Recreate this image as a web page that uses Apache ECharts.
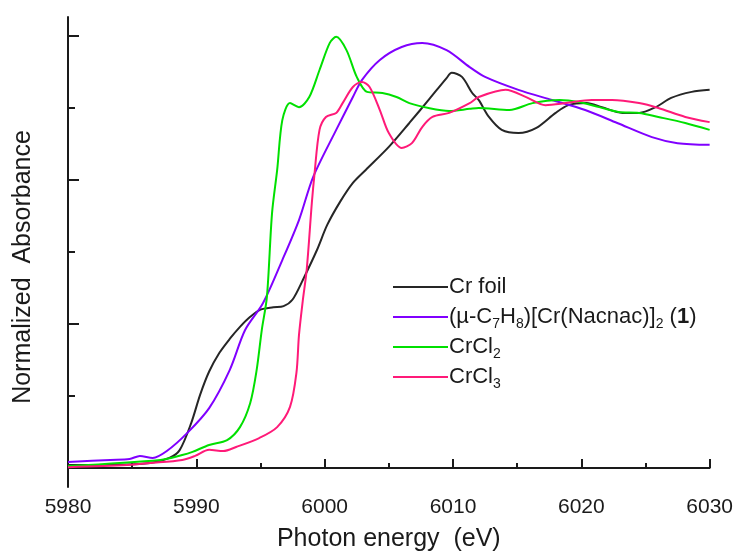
<!DOCTYPE html>
<html>
<head>
<meta charset="utf-8">
<script src="https://cdn.jsdelivr.net/npm/echarts@6/dist/echarts.min.js"></script>
<style>
  html, body { margin: 0; padding: 0; background: #fff; }
  #chart { width: 736px; height: 557px; }
</style>
</head>
<body>
<div id="chart"></div>
<script>
// Cr K-edge XANES spectra: [photon energy (eV), normalized absorbance]
const crFoil = [
  [5980, 0.010], [5982.5, 0.010], [5986.4, 0.017], [5987.9, 0.035], [5988.7, 0.062],
  [5989.6, 0.156], [5990.3, 0.255], [5991.0, 0.335], [5991.8, 0.400], [5992.6, 0.448],
  [5993.4, 0.490], [5994.2, 0.525], [5995.0, 0.550], [5996.0, 0.558], [5996.8, 0.562],
  [5997.5, 0.585], [5998.3, 0.653], [5999.4, 0.757], [6000.2, 0.844], [6001.2, 0.924],
  [6002.2, 0.990], [6003.2, 1.035], [6005.0, 1.115], [6006.6, 1.198], [6008.1, 1.278],
  [6009.5, 1.354], [6009.9, 1.372], [6010.7, 1.358], [6011.5, 1.302], [6012.0, 1.278],
  [6012.8, 1.219], [6013.8, 1.174], [6015.1, 1.163], [6016.5, 1.181], [6018.0, 1.233],
  [6019.0, 1.260], [6020.4, 1.267], [6021.6, 1.253], [6023.2, 1.233], [6024.5, 1.233],
  [6025.8, 1.253], [6027.0, 1.285], [6028.6, 1.306], [6030, 1.313]
];
const nacnacComplex = [
  [5980, 0.021], [5983.3, 0.028], [5984.8, 0.031], [5985.6, 0.042], [5986.6, 0.035],
  [5987.7, 0.059], [5989.3, 0.122], [5991.0, 0.208], [5992.6, 0.340], [5993.8, 0.479],
  [5995.2, 0.573], [5996.7, 0.722], [5998.0, 0.861], [5999.1, 1.010], [6000.9, 1.174],
  [6002.2, 1.288], [6002.9, 1.347], [6004.3, 1.417], [6006.0, 1.462], [6007.6, 1.476],
  [6009.5, 1.451], [6011.3, 1.392], [6012.5, 1.358], [6015.1, 1.313], [6017.7, 1.278],
  [6020.3, 1.243], [6022.8, 1.198], [6025.5, 1.149], [6027.5, 1.128], [6030, 1.122]
];
const crCl2 = [
  [5980, 0.007], [5987.2, 0.028], [5988.9, 0.045], [5989.7, 0.056], [5991.0, 0.080],
  [5992.4, 0.097], [5993.4, 0.142], [5994.2, 0.226], [5994.7, 0.340], [5995.1, 0.479],
  [5995.5, 0.594], [5995.9, 0.885], [5996.3, 1.035], [5996.7, 1.208], [5997.3, 1.267],
  [5998.0, 1.253], [5998.8, 1.288], [5999.6, 1.382], [6000.4, 1.476], [6000.9, 1.497],
  [6001.7, 1.451], [6002.5, 1.358], [6003.3, 1.306], [6004.5, 1.302], [6005.6, 1.288],
  [6006.6, 1.267], [6008.1, 1.250], [6009.7, 1.240], [6011.3, 1.247], [6012.0, 1.250],
  [6014.4, 1.243], [6016.2, 1.267], [6018.3, 1.278], [6019.8, 1.271], [6021.4, 1.253],
  [6022.9, 1.236], [6024.5, 1.233], [6026.0, 1.219], [6028.1, 1.198], [6030, 1.174]
];
const crCl3 = [
  [5980, 0.003], [5984.6, 0.010], [5986.4, 0.017], [5988.9, 0.028], [5989.9, 0.042],
  [5991.0, 0.063], [5992.1, 0.059], [5993.1, 0.073], [5994.9, 0.104], [5996.3, 0.142],
  [5997.3, 0.212], [5997.8, 0.330], [5998.0, 0.462], [5998.3, 0.583], [5998.6, 0.688],
  [5999.0, 0.920], [5999.2, 1.017], [5999.6, 1.174], [6000.1, 1.219], [6000.9, 1.233],
  [6001.4, 1.267], [6002.2, 1.323], [6002.9, 1.340], [6003.5, 1.323], [6004.3, 1.243],
  [6005.0, 1.163], [6006.0, 1.111], [6006.8, 1.128], [6007.6, 1.184], [6008.4, 1.219],
  [6009.7, 1.233], [6011.3, 1.267], [6012.0, 1.288], [6014.1, 1.313], [6015.7, 1.288],
  [6017.2, 1.260], [6018.8, 1.267], [6020.8, 1.278], [6022.4, 1.278], [6024.5, 1.267],
  [6026.0, 1.250], [6028.1, 1.219], [6030, 1.201]
];

const seriesNames = ['Cr foil', 'nacnac', 'CrCl2', 'CrCl3'];
const legendLabels = {
  'Cr foil': 'Cr foil',
  'nacnac': '(\u00b5-C{sub|7}H{sub|8})[Cr(Nacnac)]{sub|2} ({b|1})',
  'CrCl2': 'CrCl{sub|2}',
  'CrCl3': 'CrCl{sub|3}'
};
const seriesColors = ['#262626', '#8000ff', '#00e000', '#ff1a78'];
const seriesData = [crFoil, nacnacComplex, crCl2, crCl3];

const xTicks = { min: 5980, max: 6030, step: 10 };
const yMajorTicks = [0, 0.5, 1.0, 1.5];
const yMinorTicks = [0.25, 0.75, 1.25];
const yRange = { min: -0.066, max: 1.566 };

const FONT = '"Liberation Sans", Arial, Helvetica, sans-serif';
const INK = '#1a1a1a';

const chart = echarts.init(document.getElementById('chart'), null, { renderer: 'canvas' });

const yBase = {
  type: 'value',
  min: yRange.min,
  max: yRange.max,
  position: 'left',
  splitLine: { show: false },
  axisLabel: { show: false }
};

chart.setOption({
  animation: false,
  backgroundColor: '#ffffff',
  grid: { left: 68, right: 25, top: 17, bottom: 70, containLabel: false },
  xAxis: {
    type: 'value',
    min: xTicks.min,
    max: xTicks.max,
    interval: xTicks.step,
    name: 'Photon energy  (eV)',
    nameLocation: 'middle',
    nameGap: 40,
    nameTextStyle: { fontFamily: FONT, fontSize: 25, color: INK },
    axisLine: { show: true, lineStyle: { color: INK, width: 2 } },
    axisTick: { show: true, inside: true, length: 9, lineStyle: { color: INK, width: 2 } },
    minorTick: { show: true, splitNumber: 2, length: 5, lineStyle: { color: INK, width: 2 } },
    axisLabel: { fontFamily: FONT, fontSize: 21, color: INK, margin: 10, formatter: v => String(v) },
    splitLine: { show: false }
  },
  yAxis: [
    Object.assign({}, yBase, {
      axisLine: { show: true, onZero: false, lineStyle: { color: INK, width: 2 } },
      axisTick: { show: true, inside: true, length: 11, customValues: yMajorTicks,
                  lineStyle: { color: INK, width: 2 } }
    }),
    Object.assign({}, yBase, {
      axisLine: { show: false },
      axisTick: { show: true, inside: true, length: 7, customValues: yMinorTicks,
                  lineStyle: { color: INK, width: 2 } }
    })
  ],
  legend: {
    orient: 'vertical',
    left: 388,
    top: 268,
    itemWidth: 55,
    itemHeight: 2,
    itemGap: 2,
    icon: 'rect',
    selectedMode: false,
    data: seriesNames,
    formatter: name => legendLabels[name],
    textStyle: {
      fontFamily: FONT,
      fontSize: 22,
      color: INK,
      lineHeight: 28,
      padding: [0, 0, 0, -4],
      rich: {
        sub: { fontFamily: FONT, fontSize: 14, lineHeight: 14, verticalAlign: 'bottom', color: INK },
        b: { fontFamily: FONT, fontSize: 22, lineHeight: 28, fontWeight: 'bold', color: INK }
      }
    }
  },
  graphic: [{
    type: 'text',
    x: 23,
    y: 267,
    rotation: Math.PI / 2,
    style: {
      text: 'Normalized  Absorbance',
      font: '25px ' + FONT,
      fill: INK,
      align: 'center',
      verticalAlign: 'middle'
    }
  }],
  series: seriesNames.map((name, i) => ({
    name: name,
    type: 'line',
    xAxisIndex: 0,
    yAxisIndex: 0,
    data: seriesData[i],
    smooth: 0.3,
    showSymbol: false,
    symbol: 'none',
    lineStyle: { color: seriesColors[i], width: 2 },
    itemStyle: { color: seriesColors[i] },
    z: 2 + i
  }))
});
</script>
</body>
</html>
